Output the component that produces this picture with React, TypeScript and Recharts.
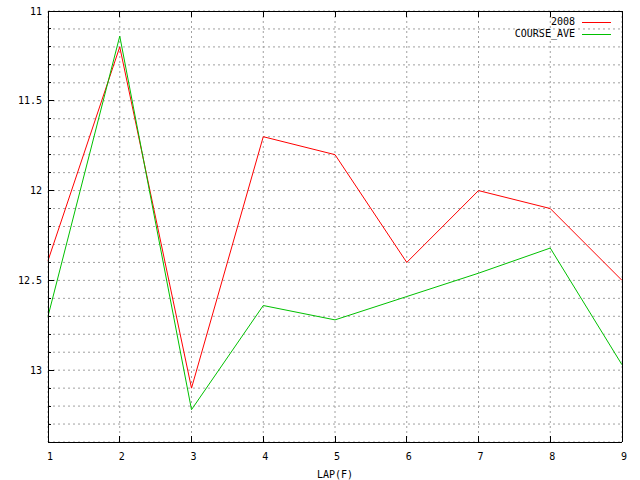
import { LineChart, Line, XAxis, YAxis, CartesianGrid, Legend } from "recharts";

const laps = [1, 2, 3, 4, 5, 6, 7, 8, 9];
const year2008 = [12.39, 11.2, 13.1, 11.7, 11.8, 12.4, 12.0, 12.1, 12.5];
const courseAve = [12.7, 11.14, 13.22, 12.64, 12.72, 12.59, 12.46, 12.32, 12.97];

const xTicks = [1, 2, 3, 4, 5, 6, 7, 8, 9];
const yTicks = [
  11, 11.1, 11.2, 11.3, 11.4, 11.5, 11.6, 11.7, 11.8, 11.9,
  12, 12.1, 12.2, 12.3, 12.4, 12.5, 12.6, 12.7, 12.8, 12.9,
  13, 13.1, 13.2, 13.3, 13.4,
];
const yLabels = [11, 11.5, 12, 12.5, 13];

const data = laps.map((lap, i) => ({ lap, y2008: year2008[i], ave: courseAve[i] }));

const FONT = "'DejaVu Sans Mono', monospace";

// gnuplot-like inward ticks; labels only on major values
// eslint-disable-next-line @typescript-eslint/no-explicit-any
const LeftTick = ({ x, y, payload }: any) => {
  const major = yLabels.includes(payload.value);
  return (
    <g>
      <line x1={x} x2={x + (major ? 6 : 3)} y1={y} y2={y} stroke="#000" shapeRendering="crispEdges" />
      {major && (
        <text x={x - 6} y={y} textAnchor="end" dominantBaseline="central" fontSize={10} fontFamily={FONT} fill="#000">
          {payload.value}
        </text>
      )}
    </g>
  );
};

// eslint-disable-next-line @typescript-eslint/no-explicit-any
const RightTick = ({ x, y, payload }: any) => {
  const major = yLabels.includes(payload.value);
  return <line x1={x - (major ? 6 : 3)} x2={x} y1={y} y2={y} stroke="#000" shapeRendering="crispEdges" />;
};

// eslint-disable-next-line @typescript-eslint/no-explicit-any
const BottomTick = ({ x, y, payload }: any) => (
  <g>
    <line x1={x} x2={x} y1={y} y2={y - 6} stroke="#000" shapeRendering="crispEdges" />
    <text x={x + 2} y={y + 14} textAnchor="middle" dominantBaseline="central" fontSize={10} fontFamily={FONT} fill="#000">
      {payload.value}
    </text>
  </g>
);

// eslint-disable-next-line @typescript-eslint/no-explicit-any
const TopTick = ({ x, y }: any) => (
  <line x1={x} x2={x} y1={y} y2={y + 6} stroke="#000" shapeRendering="crispEdges" />
);

// eslint-disable-next-line @typescript-eslint/no-explicit-any
const LegendBox = ({ payload }: any) => (
  <div style={{ fontFamily: FONT, fontSize: 10, color: "#000" }}>
    {/* eslint-disable-next-line @typescript-eslint/no-explicit-any */}
    {payload.map((p: any) => (
      <div key={p.value} style={{ display: "flex", alignItems: "center", height: 12 }}>
        <span style={{ width: 95, textAlign: "right", lineHeight: "12px" }}>{p.value}</span>
        <span style={{ width: 29, marginLeft: 7, borderTop: `1px solid ${p.color}`, height: 0 }} />
      </div>
    ))}
  </div>
);

const axisLine = { stroke: "#000", shapeRendering: "crispEdges" };

export default function App() {
  return (
    <div style={{ position: "absolute", left: 0, top: 0, width: 640, height: 480, background: "#fff" }}>
      <LineChart width={640} height={480} data={data} margin={{ top: 0, right: 0, bottom: 0, left: 0 }}>
        <CartesianGrid xAxisId="b" yAxisId="l" stroke="#a0a0a0" strokeDasharray="2 3" />
        <XAxis
          xAxisId="t"
          orientation="top"
          type="number"
          dataKey="lap"
          domain={[1, 9]}
          ticks={xTicks}
          interval={0}
          height={11}
          tickSize={0}
          tickMargin={0}
          tickLine={false}
          axisLine={axisLine}
          tick={<TopTick />}
        />
        <XAxis
          xAxisId="b"
          type="number"
          dataKey="lap"
          domain={[1, 9]}
          ticks={xTicks}
          interval={0}
          height={38}
          tickSize={0}
          tickMargin={0}
          tickLine={false}
          axisLine={axisLine}
          tick={<BottomTick />}
          label={{ value: "LAP(F)", position: "insideBottom", offset: 2, fill: "#000", fontSize: 10, fontFamily: FONT }}
        />
        <YAxis
          yAxisId="l"
          type="number"
          domain={[11, 13.4]}
          reversed
          ticks={yTicks}
          interval={0}
          width={48}
          tickSize={0}
          tickMargin={0}
          tickLine={false}
          axisLine={axisLine}
          tick={<LeftTick />}
        />
        <YAxis
          yAxisId="r"
          orientation="right"
          type="number"
          domain={[11, 13.4]}
          reversed
          ticks={yTicks}
          interval={0}
          width={18}
          tickSize={0}
          tickMargin={0}
          tickLine={false}
          axisLine={axisLine}
          tick={<RightTick />}
        />
        <Legend
          layout="vertical"
          align="center"
          verticalAlign="middle"
          content={<LegendBox />}
          wrapperStyle={{ top: 16, left: 480, width: 135, bottom: "auto", right: "auto" }}
        />
        <Line
          xAxisId="b"
          yAxisId="l"
          type="linear"
          dataKey="y2008"
          name="2008"
          stroke="#ff0000"
          strokeWidth={1}
          dot={false}
          isAnimationActive={false}
        />
        <Line
          xAxisId="b"
          yAxisId="l"
          type="linear"
          dataKey="ave"
          name="COURSE_AVE"
          stroke="#00c000"
          strokeWidth={1}
          dot={false}
          isAnimationActive={false}
        />
      </LineChart>
    </div>
  );
}
